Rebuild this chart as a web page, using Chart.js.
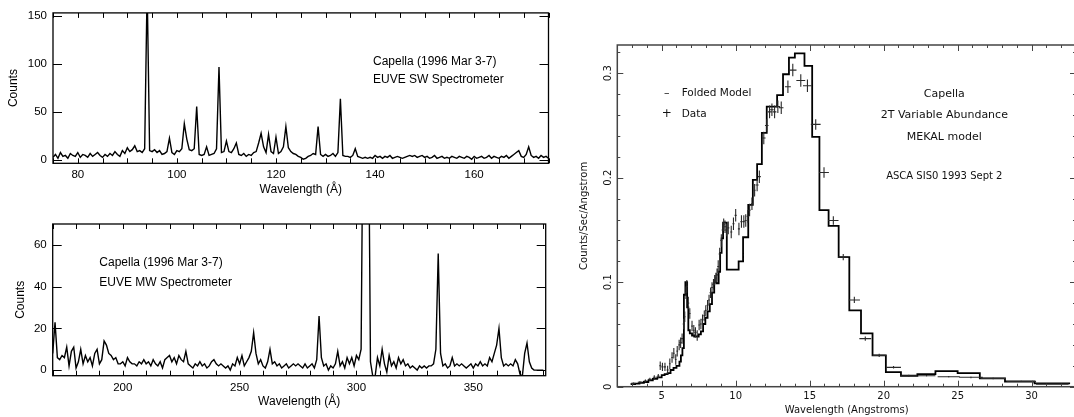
<!DOCTYPE html>
<html lang="en">
<head>
  <meta charset="UTF-8">
  <title>Capella spectra</title>
  <script src="https://cdn.jsdelivr.net/npm/chart.js"></script>
  <style>
    html, body { margin: 0; padding: 0; background: #fff; overflow: hidden; width: 1074px; height: 417px; }
    canvas { position: absolute; }
  </style>
</head>
<body>
  <canvas id="swChart" width="560" height="200" style="left:0px;top:0px"></canvas>
  <canvas id="mwChart" width="560" height="217" style="left:0px;top:200px"></canvas>
  <canvas id="ascaChart" width="520" height="417" style="left:560px;top:0px"></canvas>

  <script>
    // EUVE SW spectrometer : counts every 0.5 A, from 75 A
    const swStart = 75, swStep = 0.5;
    const swCounts = [
      3, 6, 2, 8, 4, 5, 2, 7, 5, 4,
      8, 3, 6, 5, 3, 7, 4, 6, 8, 5,
      3, 6, 4, 7, 5, 9, 6, 4, 10, 7,
      13, 9, 11, 15, 9, 10, 8, 12, 180, 10,
      9, 11, 8, 10, 6, 7, 9, 23, 8, 6,
      10, 9, 12, 38, 22, 11, 10, 12, 56, 6,
      5, 6, 14, 5, 6, 7, 12, 97, 8, 9,
      20, 9, 8, 12, 18, 6, 5, 7, 4, 6,
      5, 8, 9, 18, 28, 14, 8, 27, 9, 7,
      24, 7, 9, 14, 35, 13, 9, 7, 6, 4,
      3, 1, 2, 4, 5, 7, 6, 35, 6, 4,
      6, 4, 5, 7, 4, 8, 64, 5, 4, 4,
      3, 5, 12, 4, 3, 2, 3, 2, 3, 2,
      5, 3, 4, 2, 4, 3, 5, 2, 3, 4,
      3, 2, 3, 4, 5, 4, 5, 3, 4, 5,
      3, 4, 2, 3, 5, 2, 3, 4, 2, 3,
      2, 4, 3, 2, 4, 3, 2, 4, 3, 1,
      4, 2, 3, 4, 2, 3, 5, 2, 4, 3,
      2, 4, 3, 5, 2, 4, 6, 8, 10, 4,
      3, 6, 14, 5, 3, 4, 2, 5, 3, 4,
      2
    ];

    // EUVE MW spectrometer : counts every 1 A, from 170 A
    const mwStart = 170, mwStep = 1;
    const mwCounts = [
      8, 23, 6, 5, 7, 6, 11, 2, 9, 11,
      1, 4, 10, 3, 7, 4, 6, 2, 8, 10,
      3, 5, 14, 12, 8, 7, 5, 6, 3, 3,
      4, 2, 6, 4, 3, 3, 2, 4, 3, 5,
      3, 4, 2, 5, 3, 2, 4, 1, 5, 6,
      7, 4, 6, 3, 7, 5, 4, 9, 3, 2,
      1, 3, 2, 4, 2, 3, 1, 2, 4, 5,
      3, 2, 3, 2, 1, 2, 0, 3, 2, 6,
      3, 7, 2, 4, 6, 9, 18, 8, 3, 5,
      2, 1, 4, 10, 3, 4, 2, 3, 1, 2,
      3, 1, 2, 3, 2, 3, 2, 1, 3, 1,
      2, 3, 1, 5, 26, 6, 2, 3, 0, 2,
      1, 3, 9, 2, 4, 1, 6, 3, 6, 2,
      7, 5, 10, 150, 200, 150, 4, -3, -3, 6,
      2, 10, 3, -1, 7, 2, 4, 1, 6, 3,
      5, 2, 3, 1, 2, 1, 0, 2, 1, 2,
      1, 2, 2, 3, 10, 56, 8, 2, 3, 1,
      2, 6, 2, 3, 2, 3, 2, 1, 2, 3,
      1, 3, 2, 4, 2, 3, 2, 6, 4, 8,
      12, 20, 6, 2, 3, 2, 3, 2, 5, 3,
      -2, -3, 8, 13, 4, 1, 0, 0, 0, 0,
      0
    ];

    // ASCA SIS0 : folded model (left bin edges, counts/sec/A)
    const modelWl = [
      2.9, 3.2, 3.5, 3.8, 4.1, 4.4, 4.7, 5.0, 5.2, 5.4, 5.6, 5.8, 6.0, 6.2, 6.3, 6.4,
      6.5, 6.6, 6.72, 6.8, 6.9, 7.05, 7.2, 7.35, 7.5, 7.65, 7.8, 7.95, 8.1, 8.25, 8.4, 8.55,
      8.7, 8.85, 8.95, 9.05, 9.15, 9.4, 10.2, 10.5, 10.85, 11.16, 11.45, 11.77, 12.1, 12.8,
      13.2, 13.6, 14.0, 14.65, 15.17, 15.66, 16.28, 16.96, 17.68, 18.47, 19.25, 20.15,
      21.17, 22.28, 23.5, 25.0, 26.5, 28.2, 30.2, 32.6
    ];
    const modelRate = [
      0.0026, 0.003, 0.0038, 0.0045, 0.006, 0.0075, 0.009, 0.011, 0.012, 0.013, 0.016, 0.018, 0.020, 0.024, 0.030, 0.037,
      0.088, 0.1, 0.076, 0.054, 0.051, 0.049, 0.048, 0.048, 0.05, 0.053, 0.06, 0.066, 0.072, 0.079, 0.09, 0.1,
      0.099, 0.11, 0.128, 0.142, 0.157, 0.112, 0.12, 0.143, 0.174, 0.198, 0.213, 0.243, 0.268, 0.279,
      0.299, 0.315, 0.319, 0.307, 0.239, 0.169, 0.154, 0.124, 0.073, 0.051, 0.030, 0.014,
      0.0105, 0.012, 0.015, 0.013, 0.008, 0.005, 0.0032, 0.0032
    ];

    // ASCA SIS0 : data points with errors
    const dataWl = [
      3.08, 3.53, 3.9, 4.2, 4.5, 4.77, 4.9, 5.05, 5.22, 5.4,
      5.55, 5.7, 5.82, 5.95, 6.05, 6.18, 6.28, 6.38, 6.48, 6.56,
      6.64, 6.7, 6.8, 6.9, 7.05, 7.17, 7.28, 7.4, 7.53, 7.65,
      7.76, 7.88, 7.98, 8.1, 8.2, 8.3, 8.4, 8.5, 8.58, 8.66,
      8.74, 8.82, 8.92, 9.03, 9.12, 9.19, 9.28, 9.38, 9.5, 9.7,
      9.85, 10.0, 10.22, 10.39, 10.55, 10.68, 10.82, 10.94, 11.1, 11.28,
      11.45, 11.6, 11.9, 12.1, 12.29, 12.45, 12.63, 12.85, 13.08, 13.53,
      13.86, 14.4, 14.85, 15.41, 15.97, 16.6, 17.27, 18.02, 18.76, 19.7,
      20.67, 21.7, 22.9, 24.4, 25.9, 27.4, 29.3, 31.4
    ];
    const dataRate = [
      0.0032, 0.0042, 0.0055, 0.007, 0.009, 0.0102, 0.020, 0.019, 0.019, 0.016,
      0.022, 0.028, 0.032, 0.026, 0.034, 0.040, 0.042, 0.046, 0.060, 0.067,
      0.090, 0.096, 0.080, 0.070, 0.058, 0.054, 0.052, 0.049, 0.059, 0.060,
      0.064, 0.068, 0.073, 0.078, 0.083, 0.090, 0.095, 0.098, 0.102, 0.104,
      0.107, 0.115, 0.127, 0.140, 0.150, 0.155, 0.153, 0.150, 0.152, 0.148,
      0.156, 0.164, 0.151, 0.158, 0.158, 0.159, 0.163, 0.169, 0.175, 0.188,
      0.193, 0.201, 0.238, 0.250, 0.263, 0.265, 0.263, 0.268, 0.267, 0.287,
      0.303, 0.293, 0.288, 0.251, 0.205, 0.159, 0.124, 0.083, 0.046, 0.030,
      0.0185, 0.0105, 0.0105, 0.0095, 0.009, 0.008, 0.005, 0.0025
    ];
    const dataWlErr = [
      0.15, 0.15, 0.12, 0.12, 0.1, 0.08, 0.07, 0.07, 0.07, 0.07,
      0.06, 0.06, 0.06, 0.06, 0.06, 0.06, 0.06, 0.06, 0.06, 0.06,
      0.06, 0.06, 0.06, 0.06, 0.06, 0.06, 0.06, 0.06, 0.06, 0.06,
      0.06, 0.06, 0.06, 0.06, 0.06, 0.06, 0.06, 0.06, 0.06, 0.06,
      0.07, 0.07, 0.07, 0.07, 0.07, 0.07, 0.07, 0.07, 0.07, 0.07,
      0.07, 0.07, 0.07, 0.07, 0.07, 0.07, 0.07, 0.07, 0.07, 0.07,
      0.1, 0.1, 0.12, 0.12, 0.12, 0.12, 0.12, 0.15, 0.15, 0.2,
      0.25, 0.3, 0.3, 0.33, 0.33, 0.35, 0.35, 0.38, 0.4, 0.45,
      0.5, 0.55, 0.6, 0.75, 0.8, 0.85, 1.0, 1.1
    ];
    const dataRateErr = [
      0.001, 0.001, 0.0015, 0.0015, 0.002, 0.002, 0.004, 0.004, 0.004, 0.004,
      0.005, 0.005, 0.005, 0.005, 0.005, 0.005, 0.005, 0.005, 0.005, 0.005,
      0.006, 0.006, 0.006, 0.005, 0.005, 0.005, 0.005, 0.005, 0.005, 0.005,
      0.005, 0.005, 0.005, 0.005, 0.005, 0.005, 0.005, 0.005, 0.005, 0.005,
      0.006, 0.006, 0.006, 0.006, 0.006, 0.006, 0.006, 0.006, 0.006, 0.006,
      0.006, 0.006, 0.006, 0.006, 0.006, 0.006, 0.006, 0.006, 0.006, 0.006,
      0.006, 0.006, 0.006, 0.006, 0.006, 0.006, 0.006, 0.006, 0.006, 0.006,
      0.006, 0.006, 0.006, 0.005, 0.005, 0.004, 0.003, 0.003, 0.002, 0.0015,
      0.0012, 0.001, 0.0008, 0.0008, 0.0008, 0.0008, 0.0006, 0.0005
    ];

    const SANS = 'Liberation Sans';
    const PG = 'DejaVu Sans';

    function isMajor(v, step) {
      return Math.abs(v / step - Math.round(v / step)) < 1e-6;
    }

    // frame + inward ticks on all four sides, using the scales' own ticks
    const frameTicks = {
      id: 'frameTicks',
      afterDatasetsDraw(chart, args, o) {
        const { ctx, chartArea: a, scales: { x, y } } = chart;
        ctx.save();
        ctx.strokeStyle = o.color;
        ctx.lineWidth = o.frameWidth;
        ctx.strokeRect(a.left, a.top, a.right - a.left, a.bottom - a.top);
        ctx.lineWidth = 1;
        ctx.beginPath();
        x.ticks.forEach(t => {
          const px = Math.round(x.getPixelForValue(t.value)) + 0.5;
          const len = isMajor(t.value, o.xMajor) ? o.xLong : o.xShort;
          ctx.moveTo(px, a.bottom); ctx.lineTo(px, a.bottom - len);
          ctx.moveTo(px, a.top); ctx.lineTo(px, a.top + len);
        });
        y.ticks.forEach(t => {
          const py = Math.round(y.getPixelForValue(t.value)) + 0.5;
          const len = isMajor(t.value, o.yMajor) ? o.yLong : o.yShort;
          ctx.moveTo(a.left, py); ctx.lineTo(a.left + len, py);
          ctx.moveTo(a.right, py); ctx.lineTo(a.right - len, py);
        });
        ctx.stroke();
        ctx.restore();
      }
    };

    // free text on the canvas (annotations, legend, rotated y labels)
    const notes = {
      id: 'notes',
      afterDraw(chart, args, o) {
        const { ctx } = chart;
        ctx.save();
        ctx.fillStyle = o.color || '#000';
        ctx.textBaseline = 'middle';
        (o.items || []).forEach(n => {
          ctx.font = n.font;
          ctx.textAlign = n.align || 'left';
          ctx.fillText(n.text, n.x, n.y);
        });
        if (o.rotatedY) {
          const y = chart.scales.y, a = chart.chartArea;
          ctx.font = o.rotatedY.font;
          ctx.textAlign = 'center';
          y.ticks.forEach(t => {
            if (!isMajor(t.value, o.rotatedY.step)) return;
            ctx.save();
            ctx.translate(a.left - o.rotatedY.gap, y.getPixelForValue(t.value));
            ctx.rotate(-Math.PI / 2);
            ctx.fillText(t.value === 0 ? '0' : t.value.toFixed(1), 0, 0);
            ctx.restore();
          });
        }
        ctx.restore();
      }
    };

    // crosses for the ASCA data points
    const errorBars = {
      id: 'errorBars',
      afterDatasetsDraw(chart, args, o) {
        const { ctx, scales: { x, y } } = chart;
        ctx.save();
        ctx.strokeStyle = o.color;
        ctx.lineWidth = o.width;
        ctx.beginPath();
        dataWl.forEach((w, i) => {
          const px = x.getPixelForValue(w);
          const py = y.getPixelForValue(dataRate[i]);
          ctx.moveTo(x.getPixelForValue(w - dataWlErr[i]), py);
          ctx.lineTo(x.getPixelForValue(w + dataWlErr[i]), py);
          ctx.moveTo(px, y.getPixelForValue(dataRate[i] - dataRateErr[i]));
          ctx.lineTo(px, y.getPixelForValue(dataRate[i] + dataRateErr[i]));
        });
        ctx.stroke();
        ctx.restore();
      }
    };

    function euveChart(id, start, step, counts, box, axes, texts) {
      const pts = counts.map((c, i) => ({ x: start + i * step, y: c }));
      return new Chart(document.getElementById(id), {
        type: 'line',
        data: { datasets: [{ data: pts, borderColor: '#000', borderWidth: 1.4, pointRadius: 0, tension: 0 }] },
        plugins: [frameTicks, notes],
        options: {
          responsive: false,
          animation: false,
          events: [],
          layout: { padding: { left: 0, top: box.top, right: box.right, bottom: 0 } },
          scales: {
            x: {
              type: 'linear', min: axes.xMin, max: axes.xMax,
              afterFit: s => { s.height = box.xHeight; },
              grid: { display: false, drawTicks: false },
              border: { display: false },
              ticks: {
                stepSize: axes.xStep, autoSkip: false, maxRotation: 0, includeBounds: false,
                padding: 5, color: '#000', font: { family: SANS, size: 11.5 },
                callback: v => isMajor(v, axes.xLabel) ? String(v) : ''
              },
              title: { display: true, text: 'Wavelength (\u00C5)', color: '#000',
                       font: { family: SANS, size: 12 }, padding: { top: 0, bottom: box.xTitlePad } }
            },
            y: {
              min: axes.yMin, max: axes.yMax,
              afterFit: s => { s.width = box.yWidth; },
              grid: { display: false, drawTicks: false },
              border: { display: false },
              ticks: {
                stepSize: axes.yStep, autoSkip: false, includeBounds: false,
                padding: 6, color: '#000', font: { family: SANS, size: 11.5 }
              },
              title: { display: true, text: 'Counts', color: '#000',
                       font: { family: SANS, size: 12 }, padding: { top: box.yTitlePad, bottom: 0 } }
            }
          },
          plugins: {
            legend: { display: false },
            tooltip: { enabled: false },
            frameTicks: { color: '#000', frameWidth: 1.3, xMajor: axes.xStep, xLong: 5, xShort: 5,
                          yMajor: axes.yStep, yLong: 9, yShort: 9 },
            notes: { items: texts }
          }
        }
      });
    }

    euveChart('swChart', swStart, swStep, swCounts,
      { top: 12.3, right: 11.5, xHeight: 36.7, yWidth: 53, xTitlePad: 3, yTitlePad: 6.5 },
      { xMin: 75, xMax: 175, xStep: 5, xLabel: 20, yMin: -3.2, yMax: 153.5, yStep: 50 },
      [
        { text: 'Capella (1996 Mar 3-7)', x: 373, y: 61.7, font: `12px "${SANS}"` },
        { text: 'EUVE SW Spectrometer', x: 373, y: 80, font: `12px "${SANS}"` }
      ]);

    euveChart('mwChart', mwStart, mwStep, mwCounts,
      { top: 24, right: 14.3, xHeight: 41.3, yWidth: 52.7, xTitlePad: 8, yTitlePad: 13 },
      { xMin: 170, xMax: 381, xStep: 10, xLabel: 50, yMin: -2.7, yMax: 70.2, yStep: 20 },
      [
        { text: 'Capella (1996 Mar 3-7)', x: 99.3, y: 62.7, font: `12px "${SANS}"` },
        { text: 'EUVE MW Spectrometer', x: 99.3, y: 82.3, font: `12px "${SANS}"` }
      ]);

    // ASCA panel
    const modelPts = modelWl.map((w, i) => ({ x: w, y: modelRate[i] }));
    const dataPts = dataWl.map((w, i) => ({ x: w, y: dataRate[i] }));

    new Chart(document.getElementById('ascaChart'), {
      type: 'line',
      data: {
        datasets: [
          { label: 'Folded Model', data: modelPts, stepped: true, borderColor: '#000',
            borderWidth: 1.8, pointRadius: 0 },
          { label: 'Data', type: 'scatter', data: dataPts, pointRadius: 0, showLine: false }
        ]
      },
      plugins: [errorBars, frameTicks, notes],
      options: {
        responsive: false,
        animation: false,
        events: [],
        layout: { padding: { left: 0, top: 45, right: 2, bottom: 0 } },
        scales: {
          x: {
            type: 'linear', min: 2, max: 33,
            afterFit: s => { s.height = 30.3; },
            grid: { display: false, drawTicks: false },
            border: { display: false },
            ticks: {
              stepSize: 1, autoSkip: false, maxRotation: 0, includeBounds: false,
              padding: 4, color: '#111', font: { family: PG, size: 10 },
              callback: v => isMajor(v, 5) ? String(v) : ''
            },
            title: { display: true, text: 'Wavelength (Angstroms)', color: '#111',
                     font: { family: PG, size: 10 }, padding: { top: 0, bottom: 0.5 } }
          },
          y: {
            min: 0, max: 0.327,
            afterFit: s => { s.width = 57.3; },
            grid: { display: false, drawTicks: false },
            border: { display: false },
            ticks: { display: false, stepSize: 0.02, autoSkip: false, includeBounds: false },
            title: { display: true, text: 'Counts/Sec/Angstrom', color: '#111',
                     font: { family: PG, size: 10 }, padding: { top: 18, bottom: 0 } }
          }
        },
        plugins: {
          legend: { display: false },
          tooltip: { enabled: false },
          errorBars: { color: '#2a2a2a', width: 1.1 },
          frameTicks: { color: '#444', frameWidth: 1.5, xMajor: 5, xLong: 6, xShort: 3,
                        yMajor: 0.1, yLong: 6, yShort: 3 },
          notes: {
            color: '#111',
            rotatedY: { step: 0.1, gap: 9.3, font: `10px "${PG}"` },
            items: [
              { text: '\u2013', x: 106.7, y: 93.3, align: 'center', font: `11px "${PG}"` },
              { text: 'Folded Model', x: 121.7, y: 93.3, font: `10.5px "${PG}"` },
              { text: '+', x: 106.7, y: 114.3, align: 'center', font: `12px "${PG}"` },
              { text: 'Data', x: 121.7, y: 114.3, font: `10.5px "${PG}"` },
              { text: 'Capella', x: 384.3, y: 94, align: 'center', font: `11px "${PG}"` },
              { text: '2T Variable Abundance', x: 384.3, y: 115, align: 'center', font: `11px "${PG}"` },
              { text: 'MEKAL model', x: 384.3, y: 136.7, align: 'center', font: `11px "${PG}"` },
              { text: 'ASCA SIS0 1993 Sept 2', x: 384.3, y: 176.7, align: 'center', font: `10px "${PG}"` }
            ]
          }
        }
      }
    });
  </script>
</body>
</html>
